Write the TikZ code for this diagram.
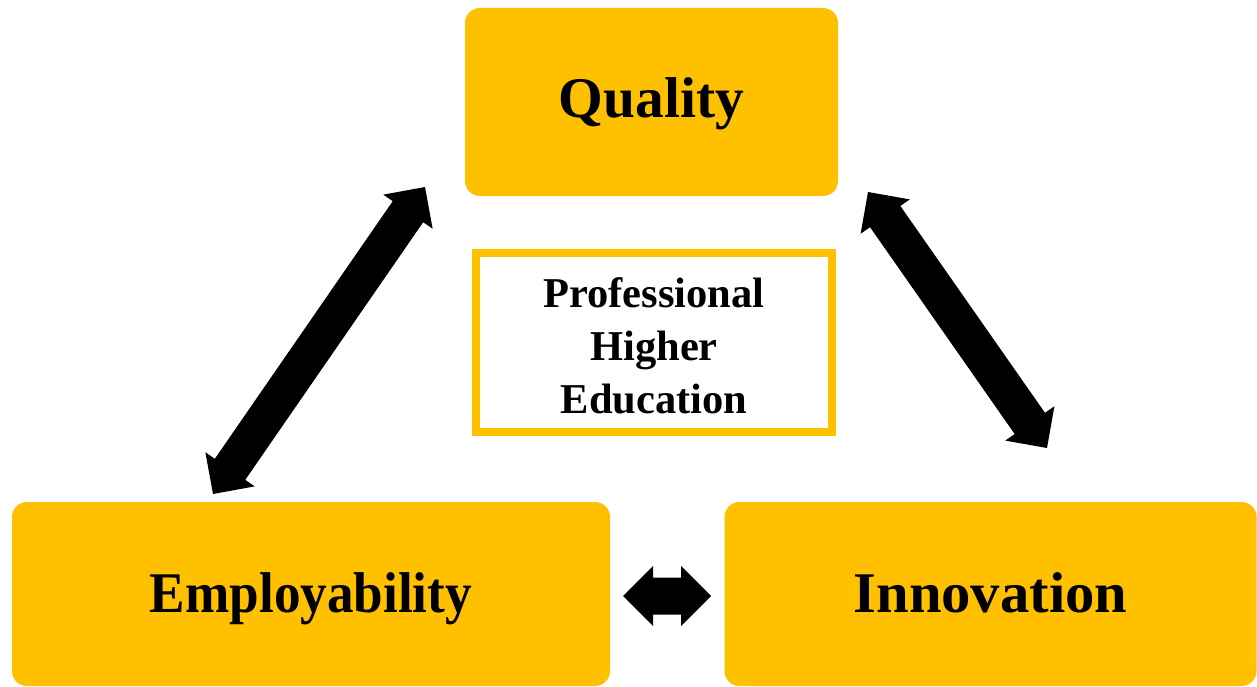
\documentclass[tikz,border=0pt]{standalone}
\usepackage{fontspec}
\usepackage{graphicx}
\setmainfont{Liberation Serif}
\usetikzlibrary{calc}
\definecolor{gold}{HTML}{FFC000}
% double-headed block arrow between two named points: shaft 37, head 60 wide, 30 long
\newcommand\dblarrow[2]{%
  \fill[black] (#1)
    -- ($(#1)!30pt!(#2)!30pt!90:(#2)$)
    -- ($(#1)!30pt!(#2)!18.5pt!90:(#2)$)
    -- ($(#2)!30pt!(#1)!18.5pt!-90:(#1)$)
    -- ($(#2)!30pt!(#1)!30pt!-90:(#1)$)
    -- (#2)
    -- ($(#2)!30pt!(#1)!30pt!90:(#1)$)
    -- ($(#2)!30pt!(#1)!18.5pt!90:(#1)$)
    -- ($(#1)!30pt!(#2)!18.5pt!-90:(#2)$)
    -- ($(#1)!30pt!(#2)!30pt!-90:(#2)$)
    -- cycle;}
\begin{document}
\begin{tikzpicture}[x=1pt,y=-1pt,
  ybox/.style={fill=gold, rounded corners=15pt, inner sep=0pt, text depth=0pt,
    font=\fontsize{57.5}{60}\selectfont\bfseries},
  cbox/.style={draw=gold, line width=8pt, fill=white, align=center,
    minimum width=356pt, minimum height=179pt, inner sep=0pt,
    font=\fontsize{42.5}{53}\selectfont\bfseries}]
\useasboundingbox (0,0) rectangle (1257,687);
\node[ybox, minimum width=373pt, minimum height=188pt, text height=32pt] (q) at (651.5,102) {Quality};
\node[ybox, minimum width=598pt, minimum height=184pt, text height=37pt] (e) at (311,594) {\scalebox{0.925}[1]{Employability}};
\node[ybox, minimum width=532pt, minimum height=184pt, text height=37pt] (i) at (990.5,594) {\scalebox{1.02}[1]{Innovation}};
\node[cbox] (c) at (654,342.5) {\rule{0pt}{37pt}Professional\\Higher\\Education};
\coordinate (qe) at (425,187);
\coordinate (eq) at (213,494);
\coordinate (qi) at (868,192);
\coordinate (iq) at (1047,448);
\coordinate (ei) at (623,596);
\coordinate (ie) at (711,596);
\dblarrow{qe}{eq}
\dblarrow{qi}{iq}
\dblarrow{ei}{ie}
\end{tikzpicture}
\end{document}
